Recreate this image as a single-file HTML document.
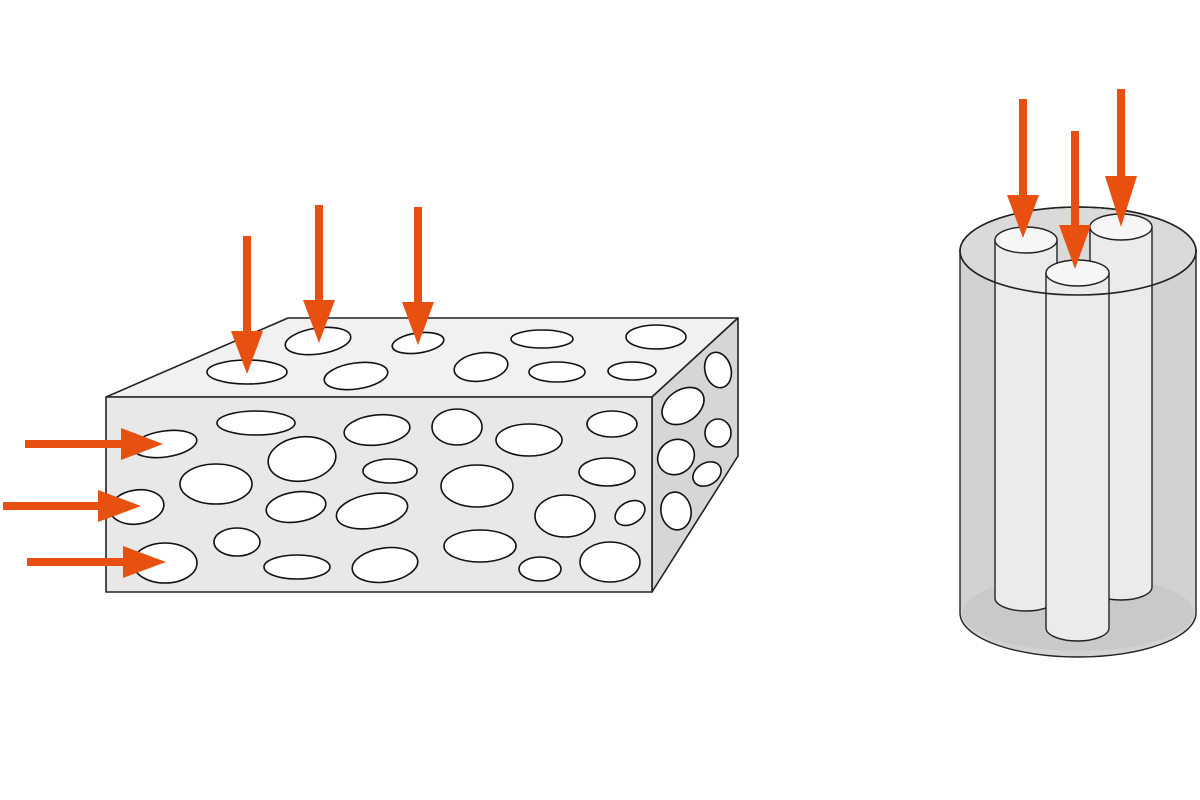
<!DOCTYPE html>
<html><head><meta charset="utf-8"><style>html,body{margin:0;padding:0;background:#fff}svg{display:block}</style></head>
<body>
<svg width="1200" height="800" viewBox="0 0 1200 800" xmlns="http://www.w3.org/2000/svg">
<g stroke="#222" stroke-width="1.6" stroke-linejoin="round">
<polygon points="106,397 288,318 738,318 652,397" fill="#f1f1f1"/>
<polygon points="652,397 738,318 738,456 652,592" fill="#d6d6d6"/>
<rect x="106" y="397" width="546" height="195" fill="#e8e8e8"/>
</g>
<g fill="#fff" stroke="#111" stroke-width="1.6">
<ellipse cx="247" cy="372" rx="40" ry="12"/>
<ellipse cx="318" cy="341" rx="33" ry="13" transform="rotate(-8 318 341)"/>
<ellipse cx="418" cy="343" rx="26" ry="10" transform="rotate(-8 418 343)"/>
<ellipse cx="356" cy="376" rx="32" ry="13" transform="rotate(-8 356 376)"/>
<ellipse cx="481" cy="367" rx="27" ry="14" transform="rotate(-8 481 367)"/>
<ellipse cx="542" cy="339" rx="31" ry="9"/>
<ellipse cx="557" cy="372" rx="28" ry="10"/>
<ellipse cx="656" cy="337" rx="30" ry="12"/>
<ellipse cx="632" cy="371" rx="24" ry="9"/>
<ellipse cx="165" cy="444" rx="32" ry="13" transform="rotate(-8 165 444)"/>
<ellipse cx="256" cy="423" rx="39" ry="12"/>
<ellipse cx="377" cy="430" rx="33" ry="15" transform="rotate(-6 377 430)"/>
<ellipse cx="457" cy="427" rx="25" ry="18"/>
<ellipse cx="529" cy="440" rx="33" ry="16"/>
<ellipse cx="612" cy="424" rx="25" ry="13"/>
<ellipse cx="302" cy="459" rx="34" ry="22" transform="rotate(-8 302 459)"/>
<ellipse cx="390" cy="471" rx="27" ry="12"/>
<ellipse cx="216" cy="484" rx="36" ry="20"/>
<ellipse cx="477" cy="486" rx="36" ry="21"/>
<ellipse cx="607" cy="472" rx="28" ry="14"/>
<ellipse cx="296" cy="507" rx="30" ry="15" transform="rotate(-8 296 507)"/>
<ellipse cx="372" cy="511" rx="36" ry="17" transform="rotate(-10 372 511)"/>
<ellipse cx="137" cy="507" rx="27" ry="17" transform="rotate(-8 137 507)"/>
<ellipse cx="565" cy="516" rx="30" ry="21"/>
<ellipse cx="630" cy="513" rx="16" ry="11" transform="rotate(-30 630 513)"/>
<ellipse cx="237" cy="542" rx="23" ry="14"/>
<ellipse cx="297" cy="567" rx="33" ry="12"/>
<ellipse cx="385" cy="565" rx="33" ry="17" transform="rotate(-8 385 565)"/>
<ellipse cx="480" cy="546" rx="36" ry="16"/>
<ellipse cx="540" cy="569" rx="21" ry="12"/>
<ellipse cx="610" cy="562" rx="30" ry="20"/>
<ellipse cx="165" cy="563" rx="32" ry="20"/>
<ellipse cx="718" cy="370" rx="13" ry="18" transform="rotate(-15 718 370)"/>
<ellipse cx="683" cy="406" rx="23" ry="16" transform="rotate(-35 683 406)"/>
<ellipse cx="718" cy="433" rx="13" ry="14"/>
<ellipse cx="676" cy="457" rx="19" ry="17" transform="rotate(-35 676 457)"/>
<ellipse cx="707" cy="474" rx="15" ry="11" transform="rotate(-30 707 474)"/>
<ellipse cx="676" cy="511" rx="15" ry="19" transform="rotate(-10 676 511)"/>
</g>
<g stroke="#222" stroke-width="1.4">
<path d="M960,251 L960,613 A118,44 0 0 0 1196,613 L1196,251 Z" fill="#d2d2d2"/>
<ellipse cx="1078" cy="613" rx="116" ry="38" fill="#c9c9c9" stroke="none"/>
<ellipse cx="1078" cy="251" rx="118" ry="44" fill="#dadada"/>
<path d="M995,240 L995,598 A31,13 0 0 0 1057,598 L1057,240 Z" fill="#ebebeb"/>
<ellipse cx="1026" cy="240" rx="31" ry="13" fill="#f6f6f6"/>
<path d="M1090,227 L1090,587 A31,13 0 0 0 1152,587 L1152,227 Z" fill="#ebebeb"/>
<ellipse cx="1121" cy="227" rx="31" ry="13" fill="#f6f6f6"/>
<path d="M1046,273 L1046,628 A31.5,13 0 0 0 1109,628 L1109,273 Z" fill="#ebebeb"/>
<ellipse cx="1077.5" cy="273" rx="31.5" ry="13" fill="#f6f6f6"/>
<ellipse cx="1078" cy="251" rx="118" ry="44" fill="none" stroke="#222" stroke-width="1.6"/>
</g>
<g fill="#e8500f">
<rect x="243" y="236" width="8" height="96"/><polygon points="231,331 263,331 247,374"/>
<rect x="315" y="205" width="8" height="96"/><polygon points="303,300 335,300 319,343"/>
<rect x="414" y="207" width="8" height="96"/><polygon points="402,302 434,302 418,345"/>
<rect x="25" y="440" width="97" height="8"/><polygon points="121,428 121,460 163,444"/>
<rect x="3" y="502" width="96" height="8"/><polygon points="98,490 98,522 141,506"/>
<rect x="27" y="558" width="97" height="8"/><polygon points="123,546 123,578 166,562"/>
<rect x="1019" y="99" width="8" height="97"/><polygon points="1007,195 1039,195 1023,238"/>
<rect x="1117" y="89" width="8" height="88"/><polygon points="1105,176 1137,176 1121,227"/>
<rect x="1071" y="131" width="8" height="95"/><polygon points="1059,225 1091,225 1075,269"/>
</g>
</svg>
</body></html>
